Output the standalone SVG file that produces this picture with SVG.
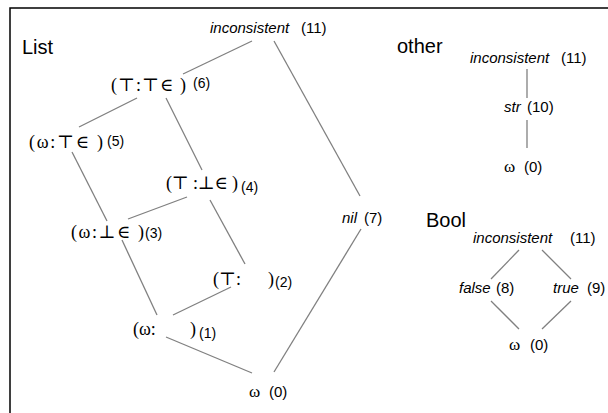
<svg xmlns="http://www.w3.org/2000/svg" width="608" height="413" viewBox="0 0 608 413">
  <style>
    .frame { fill: none; stroke: #000; stroke-width: 1.5; }
    .edge { stroke: #808080; stroke-width: 1.3; fill: none; }
    .title { font-family: "Liberation Sans", Arial, sans-serif; font-size: 20px; fill: #000; }
    .name { font-family: "Liberation Sans", Arial, sans-serif; font-style: italic; font-size: 15px; fill: #000; }
    .num { font-family: "Liberation Sans", Arial, sans-serif; font-size: 15px; fill: #000; }
    .sub { font-family: "Liberation Sans", Arial, sans-serif; font-size: 14px; fill: #000; }
    .tup { font-family: "Liberation Serif", "DejaVu Serif", "DejaVu Sans", serif; font-size: 18px; fill: #000; }
    .om { font-family: "Liberation Serif", "Times New Roman", serif; font-size: 17px; fill: #000; }
  </style>

  <!-- frame (cut off on the right and bottom) -->
  <path class="frame" d="M10,413 V8 H608"/>

  <text class="title" x="22" y="54">List</text>
  <text class="title" x="397" y="53">other</text>
  <text class="title" x="426" y="227">Bool</text>

  <g id="connectors">
    <!-- List lattice -->
    <line class="edge" x1="252" y1="41" x2="183" y2="74"/>
    <line class="edge" x1="274" y1="41" x2="360" y2="196"/>
    <line class="edge" x1="137" y1="98" x2="79" y2="127"/>
    <line class="edge" x1="166" y1="98" x2="202" y2="170"/>
    <line class="edge" x1="72" y1="152" x2="107" y2="221"/>
    <line class="edge" x1="187" y1="197" x2="128" y2="219"/>
    <line class="edge" x1="210" y1="200" x2="245" y2="264"/>
    <line class="edge" x1="122" y1="240" x2="157" y2="315"/>
    <line class="edge" x1="231" y1="287" x2="173" y2="315"/>
    <line class="edge" x1="166" y1="337" x2="252" y2="373"/>
    <line class="edge" x1="361" y1="229" x2="274" y2="372"/>
    <!-- other -->
    <line class="edge" x1="527" y1="69" x2="527" y2="98"/>
    <line class="edge" x1="527" y1="120" x2="527" y2="148"/>
    <!-- Bool -->
    <line class="edge" x1="519" y1="250" x2="491" y2="279"/>
    <line class="edge" x1="542" y1="250" x2="571" y2="279"/>
    <line class="edge" x1="491" y1="301" x2="519" y2="329"/>
    <line class="edge" x1="571" y1="301" x2="542" y2="329"/>
  </g>

  <!-- List nodes -->
  <g id="list-inconsistent">
    <text class="name" x="210" y="33">inconsistent</text>
    <text class="num" x="301" y="33">(11)</text>
  </g>
  <g id="list-6">
    <text class="tup" x="111" y="91" textLength="75" lengthAdjust="spacing">(⊤:⊤∈ )</text>
    <text class="sub" x="193" y="88">(6)</text>
  </g>
  <g id="list-5">
    <text class="tup" x="29" y="148" textLength="74" lengthAdjust="spacing">(ω:⊤∈ )</text>
    <text class="sub" x="107" y="146">(5)</text>
  </g>
  <g id="list-4">
    <text class="tup" x="166" y="189" textLength="72" lengthAdjust="spacing">(⊤ :⊥∈ )</text>
    <text class="sub" x="241" y="192">(4)</text>
  </g>
  <g id="list-3">
    <text class="tup" x="71" y="238" textLength="73" lengthAdjust="spacing">(ω:⊥∈ )</text>
    <text class="sub" x="145" y="238">(3)</text>
  </g>
  <g id="list-2">
    <text class="tup" x="213" y="285">(⊤:<tspan x="268">)</tspan></text>
    <text class="sub" x="275" y="287">(2)</text>
  </g>
  <g id="list-1">
    <text class="tup" x="133" y="335">(ω:<tspan x="190">)</tspan></text>
    <text class="sub" x="199" y="338">(1)</text>
  </g>
  <g id="list-nil">
    <text class="name" x="342" y="223">nil</text>
    <text class="num" x="364" y="223">(7)</text>
  </g>
  <g id="list-bottom">
    <text class="om" x="249" y="397">ω</text>
    <text class="num" x="269" y="397">(0)</text>
  </g>

  <!-- other nodes -->
  <g id="other-inconsistent">
    <text class="name" x="470" y="63">inconsistent</text>
    <text class="num" x="561" y="63">(11)</text>
  </g>
  <g id="other-str">
    <text class="name" x="504" y="112">str</text>
    <text class="num" x="527" y="112">(10)</text>
  </g>
  <g id="other-bottom">
    <text class="om" x="504" y="172">ω</text>
    <text class="num" x="524" y="172">(0)</text>
  </g>

  <!-- Bool nodes -->
  <g id="bool-inconsistent">
    <text class="name" x="473" y="243">inconsistent</text>
    <text class="num" x="570" y="243">(11)</text>
  </g>
  <g id="bool-false">
    <text class="name" x="459" y="293">false</text>
    <text class="num" x="496" y="293">(8)</text>
  </g>
  <g id="bool-true">
    <text class="name" x="553" y="293">true</text>
    <text class="num" x="587" y="293">(9)</text>
  </g>
  <g id="bool-bottom">
    <text class="om" x="509" y="350">ω</text>
    <text class="num" x="530" y="350">(0)</text>
  </g>
</svg>
